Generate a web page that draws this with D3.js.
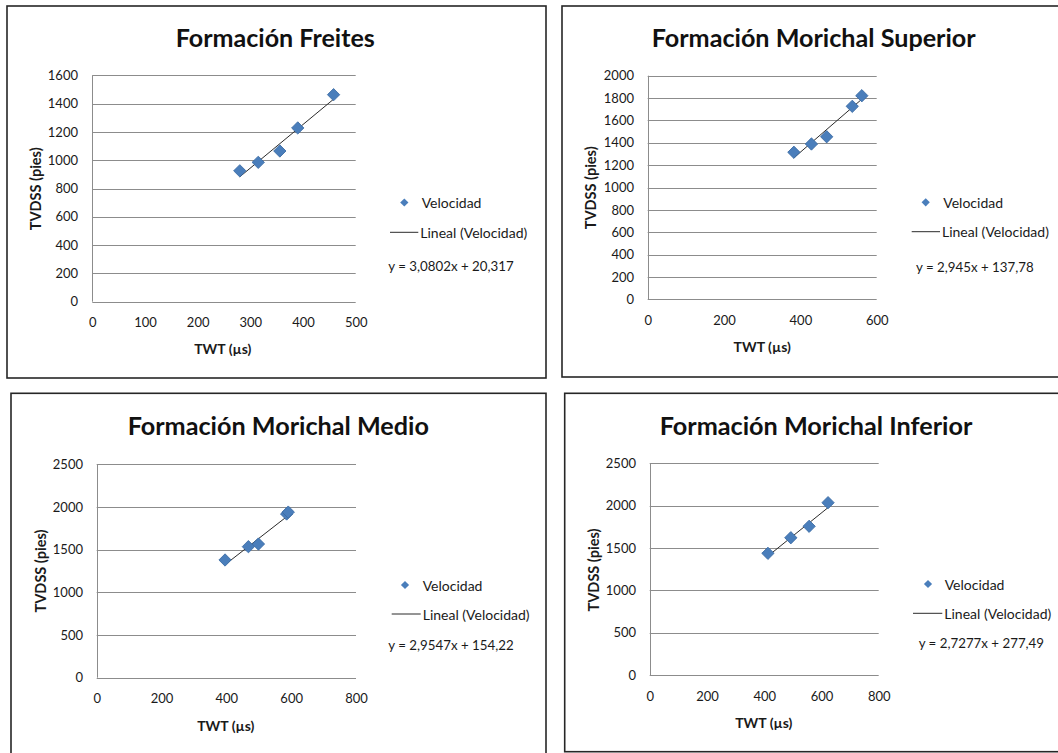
<!DOCTYPE html>
<html>
<head>
<meta charset="utf-8">
<script src="https://cdn.jsdelivr.net/npm/d3@7"></script>
<style>
  html, body { margin: 0; padding: 0; background: #ffffff; }
  svg { display: block; font-family: Lato, "Open Sans", sans-serif; }
</style>
</head>
<body>
<svg id="chart" width="1058" height="753"></svg>
<script>
// ---- Data -------------------------------------------------------------
const titles = [
  "Formación Freites",
  "Formación Morichal Superior",
  "Formación Morichal Medio",
  "Formación Morichal Inferior"
];

// TWT (µs) and TVDSS (pies) per formation
const twtFreites   = [280, 315, 356, 390, 458];
const tvdssFreites = [925, 985, 1065, 1228, 1463];

const twtSuperior   = [383, 429, 469, 536, 561];
const tvdssSuperior = [1315, 1389, 1454, 1726, 1821];

const twtMedio   = [396, 468, 499, 586, 591];
const tvdssMedio = [1379, 1535, 1566, 1918, 1940];

const twtInferior   = [413, 493, 557, 623];
const tvdssInferior = [1437, 1621, 1756, 2035];

// Linear trend lines (y = slope·x + intercept)
const slopes     = [3.0802, 2.945, 2.9547, 2.7277];
const intercepts = [20.317, 137.78, 154.22, 277.49];
const equationLabels = [
  "y = 3,0802x + 20,317",
  "y = 2,945x + 137,78",
  "y = 2,9547x + 154,22",
  "y = 2,7277x + 277,49"
];

const xTicks = [
  [0, 100, 200, 300, 400, 500],
  [0, 200, 400, 600],
  [0, 200, 400, 600, 800],
  [0, 200, 400, 600, 800]
];
const yTicks = [
  [0, 200, 400, 600, 800, 1000, 1200, 1400, 1600],
  [0, 200, 400, 600, 800, 1000, 1200, 1400, 1600, 1800, 2000],
  [0, 500, 1000, 1500, 2000, 2500],
  [0, 500, 1000, 1500, 2000, 2500]
];

const seriesName = "Velocidad";
const trendName  = "Lineal (Velocidad)";
const xAxisTitle = "TWT (µs)";
const yAxisTitle = "TVDSS (pies)";

const twtSeries   = [twtFreites, twtSuperior, twtMedio, twtInferior];
const tvdssSeries = [tvdssFreites, tvdssSuperior, tvdssMedio, tvdssInferior];

// ---- Layout of the four chart boxes --------------------------------------
const layout = [
  { frame: [7, 6, 539, 372], plot: { l: 92.3, r: 355.7, t: 75.3, b: 301.7 },
    title: [275.3, 46.5, 199], xt: [222.8, 348.3], yt: [35.7, 188.8],
    leg: { dx: 404.3, dy: 202.5, vx: 421.7, lx1: 390, lx2: 418.3, ly: 232.3, ex: 388.3, ey: 265.5 } },
  { frame: [562, 6, 540, 371], plot: { l: 647.7, r: 876.7, t: 75.7, b: 299.3 },
    title: [813.7, 46.5, 324], xt: [762.2, 346.7], yt: [590.7, 187.8],
    leg: { dx: 925.7, dy: 202.3, vx: 943.3, lx1: 911.7, lx2: 940, ly: 231.7, ex: 916, ey: 266.7 } },
  { frame: [11, 393.3, 535, 400], plot: { l: 96.7, r: 356, t: 464.3, b: 677.7 },
    title: [278.3, 434.5, 301.3], xt: [225.8, 725], yt: [40, 571],
    leg: { dx: 405, dy: 585, vx: 422.7, lx1: 391.7, lx2: 420.7, ly: 614, ex: 388.3, ey: 645 } },
  { frame: [564.7, 393.3, 540, 358.4], plot: { l: 649.7, r: 878.7, t: 463.3, b: 675 },
    title: [816, 434.5, 312.7], xt: [763.8, 722.3], yt: [593, 570],
    leg: { dx: 928, dy: 584, vx: 944.7, lx1: 913, lx2: 942.3, ly: 613.3, ex: 918.7, ey: 643.3 } }
];

const COLORS = {
  frame: "#262626",
  grid: "#8c8c8c",
  text: "#1a1a1a",
  marker: "#4a7ebb",
  markerStroke: "#3a6aa3",
  trend: "#2b2b2b"
};

const svg = d3.select("#chart");
const markerPath = d3.symbol().type(d3.symbolSquare).size(76)();
const legendMarkerPath = d3.symbol().type(d3.symbolSquare).size(34)();

layout.forEach((L, i) => {
  const g = svg.append("g");
  const p = L.plot;

  // outer box
  g.append("rect")
    .attr("x", L.frame[0]).attr("y", L.frame[1])
    .attr("width", L.frame[2]).attr("height", L.frame[3])
    .attr("fill", "#fff").attr("stroke", COLORS.frame).attr("stroke-width", 1.6);

  const xt = xTicks[i], yt = yTicks[i];
  const x = d3.scaleLinear().domain([0, xt[xt.length - 1]]).range([p.l, p.r]);
  const y = d3.scaleLinear().domain([0, yt[yt.length - 1]]).range([p.b, p.t]);

  // horizontal gridlines
  g.append("g").selectAll("line").data(yt).join("line")
    .attr("x1", p.l).attr("x2", p.r)
    .attr("y1", d => Math.round(y(d)) + 0.5).attr("y2", d => Math.round(y(d)) + 0.5)
    .attr("stroke", COLORS.grid).attr("stroke-width", 1);

  // y axis
  const ya = g.append("g").attr("transform", `translate(${Math.round(p.l) + 0.5},0)`)
    .call(d3.axisLeft(y).tickValues(yt).tickSize(0).tickPadding(14.5).tickFormat(d3.format("d")));
  ya.select(".domain").attr("stroke", COLORS.grid).attr("d", `M0,${y(0)}V${y(yt[yt.length - 1])}`);
  ya.selectAll("text").attr("font-size", 13).attr("fill", COLORS.text).attr("font-family", "Lato, sans-serif");

  // x axis (labels only; the zero gridline is the baseline)
  const xa = g.append("g").attr("transform", `translate(0,${p.b})`)
    .call(d3.axisBottom(x).tickValues(xt).tickSize(0).tickPadding(16.5).tickFormat(d3.format("d")));
  xa.select(".domain").remove();
  xa.selectAll("text").attr("font-size", 13).attr("fill", COLORS.text).attr("font-family", "Lato, sans-serif");

  // trend line over the data range
  const xs = twtSeries[i];
  const xMin = d3.min(xs), xMax = d3.max(xs);
  const trend = [xMin, xMax].map(v => [v, slopes[i] * v + intercepts[i]]);
  g.append("path")
    .attr("d", d3.line().x(d => x(d[0])).y(d => y(d[1]))(trend))
    .attr("fill", "none").attr("stroke", COLORS.trend).attr("stroke-width", 1);

  // data markers
  const pts = xs.map((v, k) => ({ x: v, y: tvdssSeries[i][k] }));
  g.append("g").selectAll("path").data(pts).join("path")
    .attr("d", markerPath)
    .attr("transform", d => `translate(${x(d.x)},${y(d.y)}) rotate(45)`)
    .attr("fill", COLORS.marker).attr("stroke", COLORS.markerStroke).attr("stroke-width", 0.8);

  // chart title
  g.append("text")
    .attr("x", L.title[0]).attr("y", L.title[1])
    .attr("text-anchor", "middle")
    .attr("font-size", 25).attr("font-weight", 700).attr("fill", "#111")
    .attr("textLength", L.title[2]).attr("lengthAdjust", "spacingAndGlyphs")
    .text(titles[i]);

  // axis titles
  g.append("text")
    .attr("x", L.xt[0]).attr("y", L.xt[1])
    .attr("text-anchor", "middle").attr("dominant-baseline", "central")
    .attr("font-size", 14).attr("font-weight", 700).attr("fill", COLORS.text)
    .text(xAxisTitle);
  g.append("text")
    .attr("transform", `translate(${L.yt[0]},${L.yt[1]}) rotate(-90)`)
    .attr("text-anchor", "middle").attr("dominant-baseline", "central")
    .attr("font-size", 14.5).attr("font-weight", 700).attr("fill", COLORS.text)
    .text(yAxisTitle);

  // legend
  const lg = L.leg;
  g.append("path")
    .attr("d", legendMarkerPath)
    .attr("transform", `translate(${lg.dx},${lg.dy}) rotate(45)`)
    .attr("fill", COLORS.marker);
  g.append("text")
    .attr("x", lg.vx).attr("y", lg.dy).attr("dominant-baseline", "central")
    .attr("font-size", 14).attr("fill", COLORS.text)
    .text(seriesName);
  g.append("line")
    .attr("x1", lg.lx1).attr("x2", lg.lx2).attr("y1", lg.ly).attr("y2", lg.ly)
    .attr("stroke", COLORS.trend).attr("stroke-width", 1);
  g.append("text")
    .attr("x", lg.lx2 + 2).attr("y", lg.ly).attr("dominant-baseline", "central")
    .attr("font-size", 14).attr("fill", COLORS.text)
    .text(trendName);
  g.append("text")
    .attr("x", lg.ex).attr("y", lg.ey).attr("dominant-baseline", "central")
    .attr("font-size", 13.3).attr("fill", COLORS.text)
    .text(equationLabels[i]);
});
</script>
</body>
</html>
